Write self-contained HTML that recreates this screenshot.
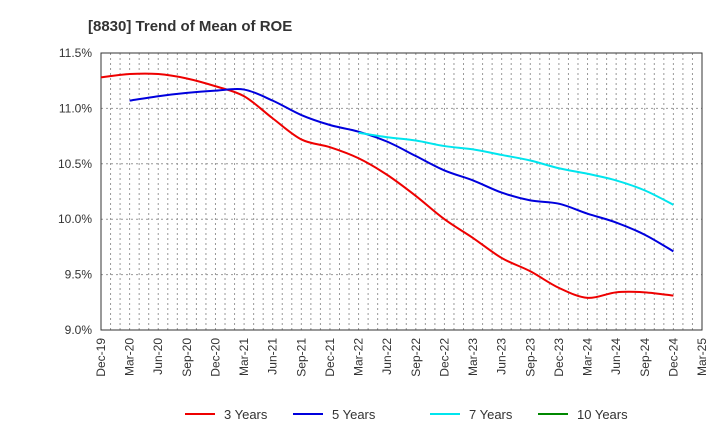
<!DOCTYPE html>
<html><head><meta charset="utf-8"><style>
body{margin:0;background:#fff;font-family:"Liberation Sans",sans-serif}
svg text{font-family:"Liberation Sans",sans-serif}
</style></head><body>
<svg id="c" width="720" height="440">
<text x="88" y="31" font-size="15" font-weight="bold" fill="#333">[8830]  Trend of Mean of ROE</text>
<g id="grid"></g><g id="axes"></g><g id="series"></g><g id="legend"></g>
</svg>
<script>
const quarters=["Dec-19","Mar-20","Jun-20","Sep-20","Dec-20","Mar-21","Jun-21","Sep-21","Dec-21","Mar-22","Jun-22","Sep-22","Dec-22","Mar-23","Jun-23","Sep-23","Dec-23","Mar-24","Jun-24","Sep-24","Dec-24","Mar-25"];
const yTicks=[9.0,9.5,10.0,10.5,11.0,11.5];
const y3=[11.28,11.31,11.31,11.27,11.20,11.11,10.91,10.72,10.65,10.55,10.40,10.21,10.00,9.83,9.65,9.53,9.38,9.29,9.34,9.34,9.31];
const y5=[null,11.07,11.11,11.14,11.16,11.17,11.07,10.94,10.85,10.79,10.70,10.57,10.44,10.35,10.24,10.17,10.14,10.05,9.97,9.86,9.71];
const y7=[null,null,null,null,null,null,null,null,null,10.78,10.74,10.71,10.66,10.63,10.58,10.53,10.46,10.41,10.35,10.26,10.13];
const y10=[];
const NS="http://www.w3.org/2000/svg";
const L=101,R=702,T=53,B=330;
const xs=i=>L+i*(R-L)/(quarters.length-1);
const ys=v=>T+(11.5-v)/(11.5-9.0)*(B-T);
function mk(t,a,p){const e=document.createElementNS(NS,t);for(const k in a)e.setAttribute(k,a[k]);p.appendChild(e);return e;}
const grid=document.getElementById('grid'),axes=document.getElementById('axes');
for(let m=1;m<(quarters.length-1)*3;m++){const x=L+m*(R-L)/((quarters.length-1)*3);
const g=mk('line',{x1:x,x2:x,y1:T,y2:B,stroke:'#999','stroke-dasharray':'2,3','stroke-width':1},grid);

}
yTicks.forEach(v=>{const y=ys(v);
if(v>9&&v<11.5){const g=mk('line',{x1:L,x2:R,y1:y,y2:y,stroke:'#999','stroke-dasharray':'2,3'},grid);

}
const t=mk('text',{x:92,y:y+4,'text-anchor':'end','font-size':12,fill:'#333'},axes);t.textContent=v.toFixed(1)+'%';

});
const fr=mk('rect',{x:L,y:T,width:R-L,height:B-T,fill:'none',stroke:'#333'},axes);


quarters.forEach((q,i)=>{const x=xs(i);const t=mk('text',{transform:`translate(${x+4},338) rotate(-90)`,'text-anchor':'end','font-size':12,fill:'#333'},axes);t.textContent=q;

});
function path(arr){const p=[];arr.forEach((v,i)=>{if(v!=null)p.push([xs(i),ys(v)]);});if(!p.length)return '';
let d=`M${p[0][0]},${p[0][1]}`;for(let i=0;i<p.length-1;i++){const p0=p[i-1]||p[i],p1=p[i],p2=p[i+1],p3=p[i+2]||p2;
d+=` C${p1[0]+(p2[0]-p0[0])/6},${p1[1]+(p2[1]-p0[1])/6} ${p2[0]-(p3[0]-p1[0])/6},${p2[1]-(p3[1]-p1[1])/6} ${p2[0]},${p2[1]}`;}return d;}
const ser=document.getElementById('series');
[[y3,'#e00','series-3-years'],[y5,'#0000dd','series-5-years'],[y7,'#00e5ee','series-7-years'],[y10,'#080','series-10-years']].forEach(([a,c,n])=>{
const d=path(a);if(!d)return;const e=mk('path',{d:d,fill:'none',stroke:c,'stroke-width':2},ser);

});
const leg=document.getElementById('legend');
[['3 Years','#e00',185],['5 Years','#0000dd',293],['7 Years','#00e5ee',430],['10 Years','#080',538]].forEach(([l,c,x])=>{
const g=mk('g',{},leg);


mk('line',{x1:x,x2:x+30,y1:414,y2:414,stroke:c,'stroke-width':2},g);
const t=mk('text',{x:x+39,y:419,'font-size':13,fill:'#333'},g);t.textContent=l;});
</script>
</body></html>
